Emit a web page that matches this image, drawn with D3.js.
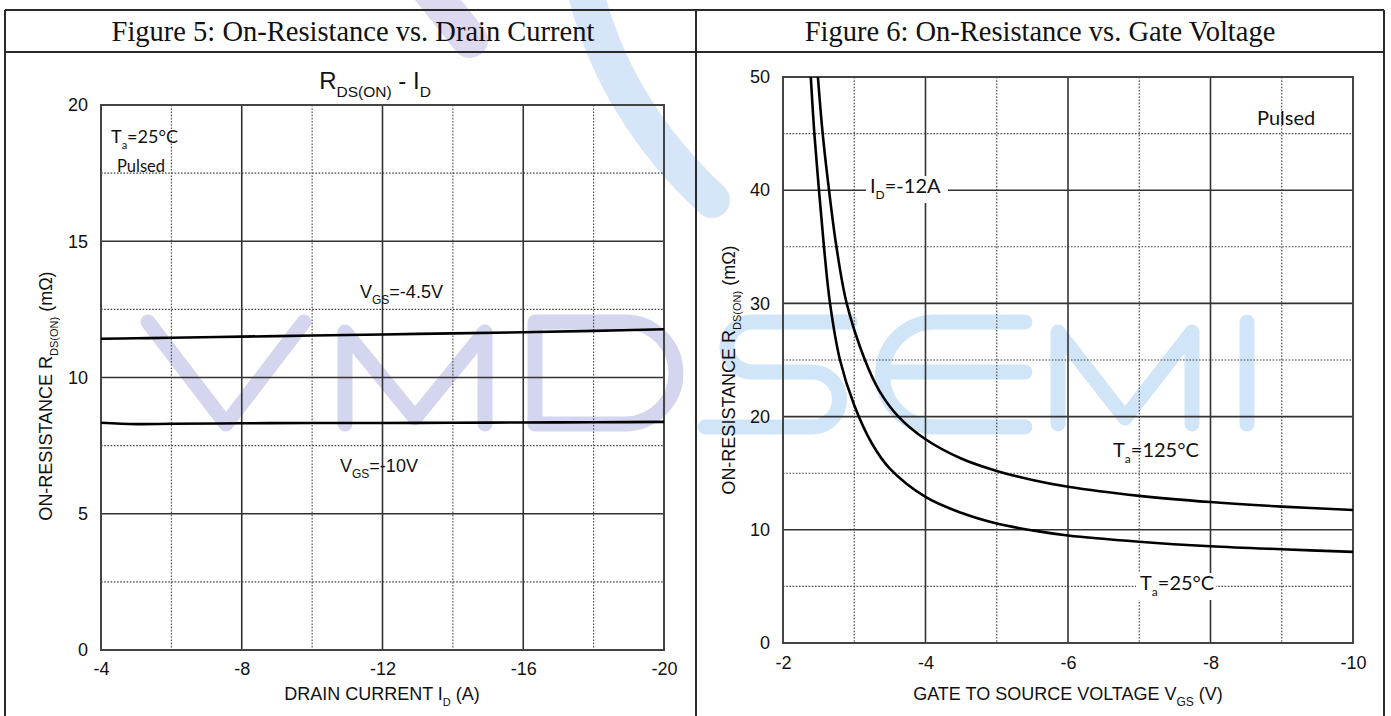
<!DOCTYPE html>
<html>
<head>
<meta charset="utf-8">
<script src="https://cdn.jsdelivr.net/npm/d3@7"></script>
<style>
  body { margin: 0; background: #fff; }
  text { font-family: "Liberation Sans", Arial, sans-serif; fill: #111; }
</style>
</head>
<body>
<svg id="chart"></svg>
<script>
// ---- Figure 5: R_DS(ON) vs drain current ----
const drainCurrent = [-4, -5, -6, -8, -10, -12, -14, -16, -18, -20];
const rdsVgs45 = [11.42, 11.44, 11.46, 11.50, 11.54, 11.58, 11.62, 11.66, 11.71, 11.77];
const rdsVgs10 = [8.34, 8.29, 8.30, 8.32, 8.33, 8.33, 8.34, 8.35, 8.36, 8.37];
const fig5XTicks = [-4, -8, -12, -16, -20];
const fig5YTicks = [0, 5, 10, 15, 20];

// ---- Figure 6: R_DS(ON) vs gate voltage ----
const vgsHot = [-2.49, -2.557, -2.646, -2.75, -2.894, -3.15, -3.35, -3.62, -4, -4.5, -5, -5.5, -6, -7, -8, -9, -10];
const rdsHot = [50, 45, 40, 35, 30, 25, 22.3, 20, 18.0, 16.3, 15.2, 14.4, 13.8, 13.0, 12.45, 12.05, 11.75];
const vgsRoom = [-2.39, -2.44, -2.505, -2.575, -2.66, -2.8, -3.0, -3.25, -3.5, -4, -4.5, -5, -5.5, -6, -7, -8, -9, -10];
const rdsRoom = [50, 45, 40, 35, 30, 25, 21.0, 17.6, 15.4, 12.9, 11.5, 10.55, 9.95, 9.5, 8.95, 8.55, 8.28, 8.05];
const fig6XTicks = [-2, -4, -6, -8, -10];
const fig6YTicks = [0, 10, 20, 30, 40, 50];

const svg = d3.select("#chart").attr("width", 1391).attr("height", 716);

// watermark behind everything
const wm = svg.append("g")
    .attr("fill", "none")
    .attr("stroke-linecap", "round")
    .attr("stroke-linejoin", "round");

wm.selectAll("path.band")
    .data([
      {d: "M585,-10 Q615,110 712,200", c: "#d6e6f8"},
      {d: "M430,-10 L470,40", c: "#ddd9f1"}
    ])
    .enter().append("path")
    .attr("class", "band")
    .attr("d", d => d.d)
    .attr("stroke", d => d.c)
    .attr("stroke-width", 36);

const lav = "#d3d6ee", sky = "#d1e5f8";
[
  {d: "M148,322 L226,424 L304,322", c: lav},
  {d: "M345,424 V332 L415,418 L485,332 V424", c: lav},
  {d: "M535,322 H625 A51,51 0 0 1 625,424 H535 Z", c: lav},
  {d: "M850,322 H752 A25,25 0 0 0 752,372 H812 A27.5,27.5 0 0 1 812,427 H705", c: sky},
  {d: "M1025,322 H935 A52.5,52.5 0 0 0 935,427 H1025 M890,372 H1025", c: sky},
  {d: "M1058,424 V332 L1125,418 L1192,332 V424", c: sky},
  {d: "M1247,322 V424", c: sky}
].forEach(p => wm.append("path").attr("d", p.d).attr("stroke", p.c).attr("stroke-width", 15));

// table frame
const frame = svg.append("g").attr("stroke", "#2a2a2a").attr("stroke-width", 2);
frame.append("line").attr("x1", 5).attr("x2", 1384).attr("y1", 10).attr("y2", 10);
frame.append("line").attr("x1", 5).attr("x2", 1384).attr("y1", 52).attr("y2", 52);
frame.append("line").attr("x1", 5).attr("x2", 5).attr("y1", 10).attr("y2", 716);
frame.append("line").attr("x1", 696).attr("x2", 696).attr("y1", 10).attr("y2", 716);
frame.append("line").attr("x1", 1384).attr("x2", 1384).attr("y1", 10).attr("y2", 716);

const serif = "'Liberation Serif', 'Times New Roman', serif";
svg.append("text").attr("x", 353).attr("y", 41).attr("text-anchor", "middle")
    .style("font-family", serif).attr("font-size", 28.5)
    .text("Figure 5: On-Resistance vs. Drain Current");
svg.append("text").attr("x", 1040).attr("y", 41).attr("text-anchor", "middle")
    .style("font-family", serif).attr("font-size", 28.5)
    .text("Figure 6: On-Resistance vs. Gate Voltage");

// text with subscripts: parts = [[string, isSub], ...]
function rich(sel, x, y, parts, size, subSize, family) {
  const t = sel.append("text").attr("x", x).attr("y", y).attr("font-size", size);
  if (family) t.style("font-family", family);
  const shift = size * 0.32;
  let down = false;
  parts.forEach(([s, sub]) => {
    const ts = t.append("tspan").text(s);
    if (sub) ts.attr("font-size", subSize);
    if (sub && !down) { ts.attr("dy", shift); down = true; }
    else if (!sub && down) { ts.attr("dy", -shift); down = false; }
  });
  return t;
}

function panel(cfg) {
  const x = d3.scaleLinear().domain(cfg.xDomain).range([cfg.left, cfg.right]);
  const y = d3.scaleLinear().domain(cfg.yDomain).range([cfg.bottom, cfg.top]);
  const g = svg.append("g");

  // dotted minor grid
  const minor = g.append("g").attr("stroke", "#444").attr("stroke-width", 1.1)
      .attr("stroke-dasharray", "1.6,1.6");
  minor.selectAll("line.mx").data(cfg.xMinor).enter().append("line")
      .attr("x1", d => x(d)).attr("x2", d => x(d)).attr("y1", cfg.top).attr("y2", cfg.bottom);
  minor.selectAll("line.my").data(cfg.yMinor).enter().append("line")
      .attr("y1", d => y(d)).attr("y2", d => y(d)).attr("x1", cfg.left).attr("x2", cfg.right);

  // solid major grid
  const major = g.append("g").attr("stroke", "#333").attr("stroke-width", 1.6);
  major.selectAll("line.Mx").data(cfg.xTicks).enter().append("line")
      .attr("x1", d => x(d)).attr("x2", d => x(d)).attr("y1", cfg.top).attr("y2", cfg.bottom);
  major.selectAll("line.My").data(cfg.yTicks).enter().append("line")
      .attr("y1", d => y(d)).attr("y2", d => y(d)).attr("x1", cfg.left).attr("x2", cfg.right);

  g.append("rect").attr("x", cfg.left).attr("y", cfg.top)
      .attr("width", cfg.right - cfg.left).attr("height", cfg.bottom - cfg.top)
      .attr("fill", "none").attr("stroke", "#444").attr("stroke-width", 2);

  // axes (labels only)
  const fmt = d => String(d);
  const xa = g.append("g").attr("transform", "translate(0," + cfg.bottom + ")")
      .call(d3.axisBottom(x).tickValues(cfg.xTicks).tickSize(0).tickPadding(cfg.xPad).tickFormat(fmt));
  const ya = g.append("g").attr("transform", "translate(" + cfg.left + ",0)")
      .call(d3.axisLeft(y).tickValues(cfg.yTicks).tickSize(0).tickPadding(13).tickFormat(fmt));
  [xa, ya].forEach(a => {
    a.select(".domain").remove();
    a.selectAll("text").attr("font-size", 18).attr("fill", "#111")
        .style("font-family", "'Liberation Sans', Arial, sans-serif");
  });

  // curves
  const clipId = "clip" + cfg.left;
  g.append("clipPath").attr("id", clipId).append("rect")
      .attr("x", cfg.left).attr("y", cfg.top)
      .attr("width", cfg.right - cfg.left).attr("height", cfg.bottom - cfg.top);
  const line = d3.line().x(d => x(d[0])).y(d => y(d[1])).curve(d3.curveCatmullRom.alpha(0.5));
  cfg.series.forEach(s => {
    g.append("path").datum(d3.zip(s.xs, s.ys))
        .attr("clip-path", "url(#" + clipId + ")")
        .attr("fill", "none").attr("stroke", "#000").attr("stroke-width", 2.6)
        .attr("d", line);
  });
  return {g, x, y};
}

// Figure 5
const p5 = panel({
  xDomain: [-4, -20], yDomain: [0, 20],
  left: 101, right: 664, top: 105, bottom: 650,
  xTicks: fig5XTicks, yTicks: fig5YTicks,
  xMinor: [-6, -10, -14, -18], yMinor: [2.5, 7.5, 12.5, 17.5],
  xPad: 12,
  series: [{xs: drainCurrent, ys: rdsVgs45}, {xs: drainCurrent, ys: rdsVgs10}]
});

rich(svg, 375, 89, [["R", false], ["DS(ON)", true], ["  -  I", false], ["D", true]], 24, 15.5)
    .attr("text-anchor", "middle");

rich(svg, 382, 700, [["DRAIN CURRENT I", false], ["D", true], [" (A)", false]], 18, 11)
    .attr("text-anchor", "middle");
rich(svg, 0, 0, [["ON-RESISTANCE R", false], ["DS(ON)", true], [" (mΩ)", false]], 18, 11)
    .attr("text-anchor", "middle").attr("transform", "translate(52,396) rotate(-90)");

const lato = "Lato, 'Open Sans', sans-serif";
rich(svg, 111, 143, [["T", false], ["a", true], ["=25°C", false]], 18, 11, lato);
svg.append("text").attr("x", 117).attr("y", 172).attr("font-size", 16.5)
    .style("font-family", lato).text("Pulsed");
rich(svg, 360, 298, [["V", false], ["GS", true], ["=-4.5V", false]], 18, 12);
rich(svg, 340, 472, [["V", false], ["GS", true], ["=-10V", false]], 18, 12);

// Figure 6
const p6 = panel({
  xDomain: [-2, -10], yDomain: [0, 50],
  left: 783, right: 1353, top: 77, bottom: 643,
  xTicks: fig6XTicks, yTicks: fig6YTicks,
  xMinor: [-3, -5, -7, -9], yMinor: [5, 15, 25, 35, 45],
  xPad: 13,
  series: [{xs: vgsHot, ys: rdsHot}, {xs: vgsRoom, ys: rdsRoom}]
});

rich(svg, 1068, 700, [["GATE TO SOURCE VOLTAGE V", false], ["GS", true], [" (V)", false]], 18, 12)
    .attr("text-anchor", "middle");
rich(svg, 0, 0, [["ON-RESISTANCE R", false], ["DS(ON)", true], [" (mΩ)", false]], 18, 11)
    .attr("text-anchor", "middle").attr("transform", "translate(735,370) rotate(-90)");

// labels with a white backing
function boxed(x, y, parts, w) {
  svg.append("rect").attr("x", x - 4).attr("y", y - 17).attr("width", w).attr("height", 27).attr("fill", "#fff");
  return rich(svg, x, y, parts, 20, 12, lato);
}
boxed(870, 193, [["I", false], ["D", true], ["=-12A", false]], 82);
boxed(1140, 590, [["T", false], ["a", true], ["=25°C", false]], 80);
rich(svg, 1113, 457, [["T", false], ["a", true], ["=125°C", false]], 20, 12, lato);
svg.append("text").attr("x", 1257).attr("y", 125).attr("font-size", 20)
    .style("font-family", lato).text("Pulsed");
</script>
</body>
</html>
